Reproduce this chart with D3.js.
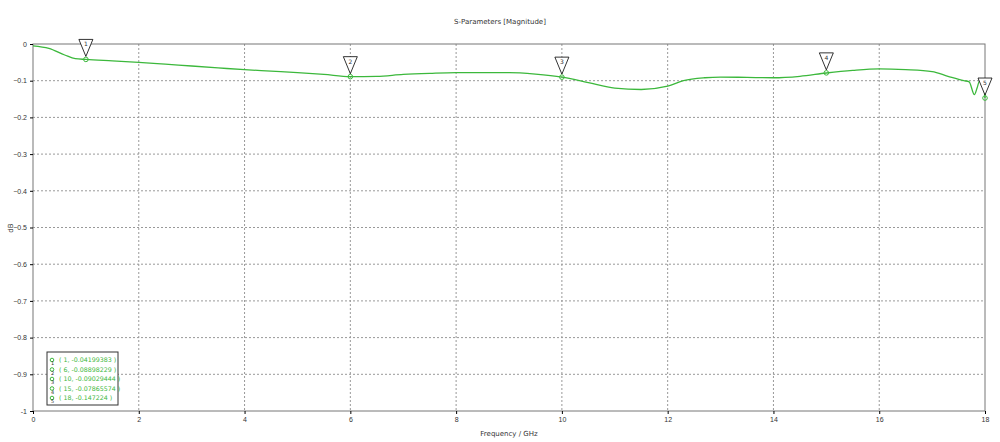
<!DOCTYPE html><html><head><meta charset="utf-8"><script src="https://cdn.jsdelivr.net/npm/d3@7"></script>
<style>body{margin:0;background:#fff;font-family:"DejaVu Sans",sans-serif}</style></head><body><svg id="c" width="1000" height="442"></svg><script>
const freq=[0,0.3,0.6,0.8,1,1.5,2,2.5,3,3.5,4,4.5,5,5.5,6,6.5,7,7.5,8,8.5,9,9.5,10,10.5,11,11.5,12,12.3,12.7,13,13.5,14,14.5,15,15.5,16,16.5,17,17.3,17.6,17.7,17.8,17.85,17.9,17.97,18];
const mag=[-0.005,-0.012,-0.03,-0.04,-0.042,-0.046,-0.05,-0.055,-0.06,-0.065,-0.07,-0.074,-0.078,-0.083,-0.089,-0.088,-0.083,-0.08,-0.078,-0.078,-0.078,-0.082,-0.09,-0.105,-0.12,-0.124,-0.115,-0.1,-0.092,-0.09,-0.091,-0.092,-0.088,-0.079,-0.072,-0.068,-0.07,-0.075,-0.088,-0.1,-0.103,-0.138,-0.12,-0.1,-0.11,-0.147];
const markerX=[1,6,10,15,18];
const markerY=[-0.04199383,-0.08898229,-0.09029444,-0.07865574,-0.147224];
const xTicks=[0,2,4,6,8,10,12,14,16,18];
const yTicks=[0,-0.1,-0.2,-0.3,-0.4,-0.5,-0.6,-0.7,-0.8,-0.9,-1];
const svg=d3.select("#c");
const x=d3.scaleLinear().domain([0,18]).range([33,985]);
const y=d3.scaleLinear().domain([-1,0]).range([411,44]);
const g=svg.append("g");
g.selectAll(".gx").data(xTicks.slice(1,-1)).join("line").attr("x1",x).attr("x2",x).attr("y1",44).attr("y2",411).attr("stroke","#999").attr("stroke-dasharray","2,2");
g.selectAll(".gy").data(yTicks.slice(1,-1)).join("line").attr("y1",y).attr("y2",y).attr("x1",33).attr("x2",985).attr("stroke","#999").attr("stroke-dasharray","2,2");
svg.append("rect").attr("x",33).attr("y",44).attr("width",952).attr("height",367).attr("fill","none").attr("stroke","#777");
svg.append("g").attr("transform","translate(0,411)").call(d3.axisBottom(x).tickValues(xTicks).tickSize(3).tickFormat(d3.format("d"))).call(a=>{a.select(".domain").remove();a.selectAll("text").attr("font-size",7).attr("fill","#333");});
svg.append("g").attr("transform","translate(33,0)").call(d3.axisLeft(y).tickValues(yTicks).tickSize(3).tickFormat(d=>d===0?"0":d===-1?"-1":d3.format(".1f")(d))).call(a=>{a.select(".domain").remove();a.selectAll("text").attr("font-size",7).attr("fill","#333");});
svg.append("text").attr("x",500).attr("y",24).attr("text-anchor","middle").attr("font-size",7).attr("fill","#333").text("S-Parameters [Magnitude]");
svg.append("text").attr("x",509).attr("y",436).attr("text-anchor","middle").attr("font-size",7).attr("fill","#333").text("Frequency / GHz");
svg.append("text").attr("transform","translate(13,228) rotate(-90)").attr("text-anchor","middle").attr("font-size",7).attr("fill","#333").text("dB");
svg.append("path").datum(freq.map((f,i)=>[f,mag[i]])).attr("d",d3.line().x(d=>x(d[0])).y(d=>y(d[1])).curve(d3.curveMonotoneX)).attr("fill","none").attr("stroke","#3cb83c").attr("stroke-width",1.3);
markerX.forEach((f,i)=>{const px=x(f),py=y(markerY[i]);
svg.append("circle").attr("cx",px).attr("cy",py).attr("r",2.3).attr("fill","none").attr("stroke","#3cb83c").attr("stroke-width",1);
svg.append("path").attr("d",`M${px-7},${py-20}L${px+7},${py-20}L${px},${py-3}Z`).attr("fill","#fff").attr("stroke","#000").attr("stroke-width",0.8);
svg.append("text").attr("x",px).attr("y",py-13).attr("text-anchor","middle").attr("font-size",6).attr("fill","#333").text(i+1);});
svg.append("rect").attr("x",47).attr("y",352).attr("width",71).attr("height",53).attr("fill","#fff").attr("stroke","#333");
markerX.forEach((f,i)=>{const ly=362+i*9.5;
svg.append("circle").attr("cx",52).attr("cy",ly-2).attr("r",1.8).attr("fill","none").attr("stroke","#3cb83c");
svg.append("text").attr("x",51).attr("y",ly+3).attr("font-size",5).attr("fill","#333").text(i+1);
svg.append("text").attr("x",59).attr("y",ly).attr("font-size",6.3).attr("fill","#3cb83c").text(`( ${f}, ${markerY[i]} )`);});
</script></body></html>
